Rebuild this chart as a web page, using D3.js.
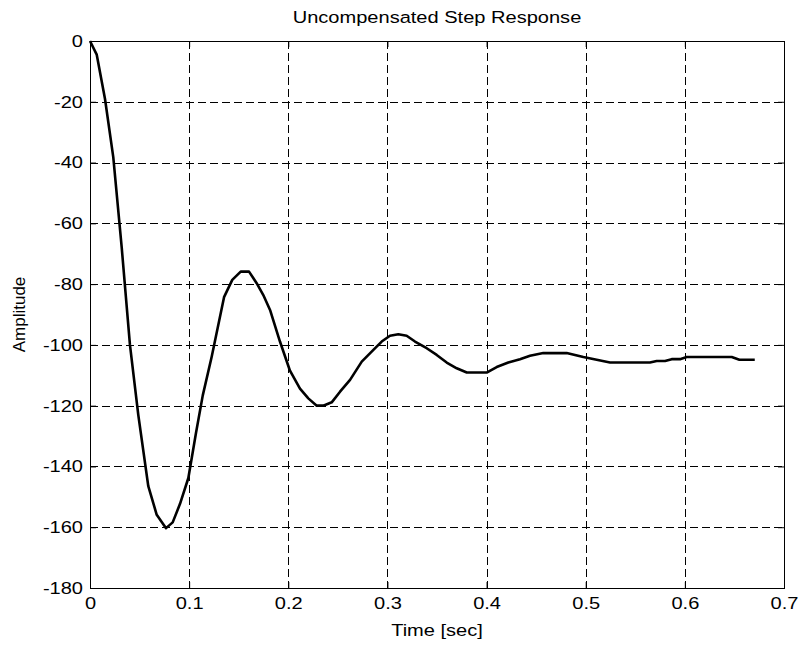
<!doctype html>
<meta charset="utf-8">
<title>Uncompensated Step Response</title>
<script src="https://cdn.jsdelivr.net/npm/d3@7/dist/d3.min.js"></script>
<style>
  body { margin: 0; background: #fff; }
  svg { font-family: "Liberation Sans", Arial, sans-serif; }
  .tick text { font-size: 17px; fill: #000; }
</style>
<svg id="chart" width="802" height="647"></svg>
<script>
  // step response samples
  const time = [0, 0.0068, 0.0151, 0.0235, 0.032, 0.0403, 0.0487, 0.0588, 0.0673, 0.0767,
    0.0834, 0.0908, 0.0992, 0.1069, 0.1137, 0.1228, 0.1352, 0.1435, 0.152, 0.1604,
    0.1681, 0.1748, 0.1816, 0.1916, 0.2017, 0.2118, 0.2202, 0.2287, 0.2353, 0.2438,
    0.2522, 0.2623, 0.2741, 0.2841, 0.2942, 0.3026, 0.311, 0.3194, 0.3278, 0.3396,
    0.3497, 0.3598, 0.3699, 0.38, 0.4001, 0.4102, 0.4219, 0.4337, 0.4438, 0.4572,
    0.4808, 0.4976, 0.5245, 0.5648, 0.5716, 0.58, 0.5867, 0.5951, 0.6019, 0.6473,
    0.655, 0.6705]
  const amplitude = [0, -4.5, -19, -38.3, -68, -100, -123, -146.5, -155.9, -160.3,
    -158.4, -152.3, -143.8, -129, -116.7, -103.8, -84.3, -78.6, -75.9, -75.9,
    -79.7, -83.6, -88.5, -98.9, -108.5, -114.4, -117.6, -120, -120, -118.9,
    -115.4, -111.5, -105.5, -102.2, -98.9, -97, -96.5, -97, -98.9, -101.1,
    -103.3, -105.8, -107.7, -109.1, -109.1, -107.3, -105.8, -104.7, -103.6, -102.7,
    -102.7, -104, -105.8, -105.8, -105.3, -105.3, -104.7, -104.7, -104, -104,
    -104.9, -104.9]

  const xTicks = [0, 0.1, 0.2, 0.3, 0.4, 0.5, 0.6, 0.7]
  const yTicks = [0, -20, -40, -60, -80, -100, -120, -140, -160, -180]

  const margin = { top: 41, right: 18, bottom: 59, left: 90 }
  const width = 802 - margin.left - margin.right
  const height = 647 - margin.top - margin.bottom
  const sx = 1.18 // text in the picture is a bit wider than Arial

  const svg = d3.select('#chart')
  const g = svg.append('g').attr('transform', `translate(${margin.left},${margin.top})`)

  const x = d3.scaleLinear().domain([0, 0.7]).range([0, width])
  const y = d3.scaleLinear().domain([-180, 0]).range([height, 0])

  // dashed grid
  g.append('g')
    .selectAll('line')
    .data(xTicks.slice(1, -1))
    .join('line')
    .attr('x1', d => Math.round(x(d)) + 0.5)
    .attr('x2', d => Math.round(x(d)) + 0.5)
    .attr('y1', 0)
    .attr('y2', height)
    .attr('stroke', '#000')
    .attr('stroke-dasharray', '8,4')
  g.append('g')
    .selectAll('line')
    .data(yTicks.slice(1, -1))
    .join('line')
    .attr('x1', 0)
    .attr('x2', width)
    .attr('y1', d => Math.round(y(d)) + 0.5)
    .attr('y2', d => Math.round(y(d)) + 0.5)
    .attr('stroke', '#000')
    .attr('stroke-dasharray', '8,4')

  // axes (ticks pointing inward)
  g.append('g')
    .attr('transform', `translate(0,${height})`)
    .call(d3.axisBottom(x).tickValues(xTicks).tickSizeInner(-6).tickSizeOuter(0).tickPadding(9)
      .tickFormat(d => String(+d.toFixed(1))))
    .selectAll('.tick text')
    .attr('transform', `scale(${sx},1)`)
  g.append('g')
    .call(d3.axisLeft(y).tickValues(yTicks).tickSizeInner(-6).tickSizeOuter(0)
      .tickFormat(d => String(d)))
    .selectAll('.tick text')
    .attr('x', -7 / sx)
    .attr('transform', `scale(${sx},1)`)
  g.append('g')
    .call(d3.axisTop(x).tickValues(xTicks).tickSizeInner(-6).tickSizeOuter(0).tickFormat(''))
  g.append('g')
    .attr('transform', `translate(${width},0)`)
    .call(d3.axisRight(y).tickValues(yTicks).tickSizeInner(-6).tickSizeOuter(0).tickFormat(''))
  g.selectAll('.domain').remove()
  g.selectAll('.tick line').attr('stroke', '#000')

  // frame
  g.append('rect')
    .attr('x', 0.5)
    .attr('y', 0.5)
    .attr('width', width)
    .attr('height', height)
    .attr('fill', 'none')
    .attr('stroke', '#000')

  // response curve
  const line = d3.line()
    .x((d, i) => x(time[i]))
    .y(d => y(d))
  g.append('path')
    .datum(amplitude)
    .attr('fill', 'none')
    .attr('stroke', '#000')
    .attr('stroke-width', 2.6)
    .attr('stroke-linejoin', 'round')
    .attr('d', line)

  // labels
  const cx = margin.left + width / 2
  svg.append('text')
    .attr('transform', `translate(${cx},23) scale(${sx},1)`)
    .attr('text-anchor', 'middle')
    .style('font-size', '17px')
    .text('Uncompensated Step Response')
  svg.append('text')
    .attr('transform', `translate(${cx},636) scale(${sx},1)`)
    .attr('text-anchor', 'middle')
    .style('font-size', '17px')
    .text('Time [sec]')
  svg.append('text')
    .attr('transform', `translate(25,${margin.top + height / 2}) rotate(-90)`)
    .attr('text-anchor', 'middle')
    .style('font-size', '17px')
    .text('Amplitude')
</script>
